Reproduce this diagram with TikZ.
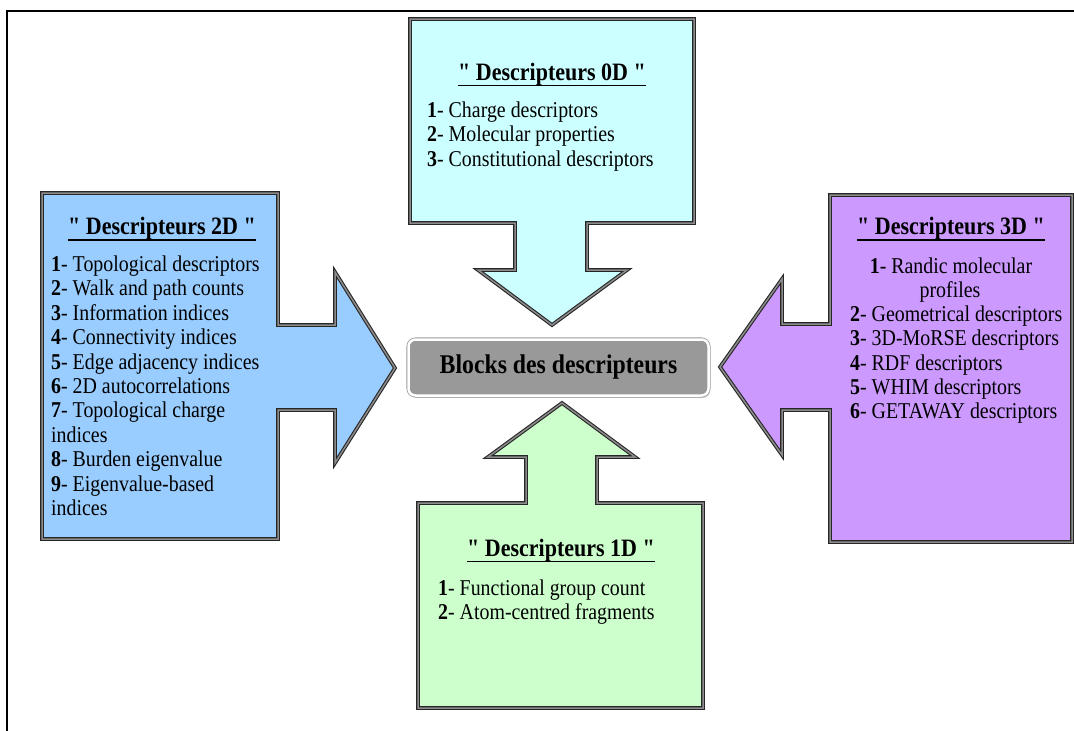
\documentclass[tikz,border=0pt]{standalone}
\usepackage{fontspec}
\setmainfont[FakeStretch=0.88]{Liberation Serif}
\newfontfamily\qfont[FakeStretch=0.88,Ligatures=ResetAll]{Liberation Serif}
\usetikzlibrary{shadows}
\definecolor{czero}{HTML}{CCFFFF}
\definecolor{cone}{HTML}{CCFFCC}
\definecolor{ctwo}{HTML}{99CCFF}
\definecolor{cthree}{HTML}{CC99FF}
\definecolor{cblock}{HTML}{999999}
\newcommand{\dq}{{\qfont\char34}}
\tikzset{
  arrowbox/.style={draw=black!85, line width=1.1pt, double=black!45, double distance=1.5pt, line join=miter},
  itemtxt/.style={anchor=base west, inner sep=0pt, font=\fontsize{22.6}{24}\selectfont},
  itemc/.style={anchor=base, inner sep=0pt, font=\fontsize{22.6}{24}\selectfont},
  ttl/.style={anchor=base, inner sep=0pt, font=\bfseries\fontsize{25}{28}\selectfont},
  ul/.style={line width=1.8pt, line cap=butt},
  frame/.style={line width=2.8pt},
}
\begin{document}
\begin{tikzpicture}[x=1pt, y=-1pt]
\useasboundingbox (0,0) rectangle (1074,731);
% frame
\draw[frame] (7,731) -- (7,11) -- (1074,11);

% 0D arrow (down)
\filldraw[arrowbox, fill=czero] (410,19) -- (694,19) -- (694,223) -- (587,223) -- (587,270) -- (627,270) -- (552,325) -- (478,270) -- (515,270) -- (515,223) -- (410,223) -- cycle;
% 2D arrow (right)
\filldraw[arrowbox, fill=ctwo] (42,193) -- (278,193) -- (278,325) -- (335,325) -- (335,272) -- (395,368) -- (335,463) -- (335,410) -- (278,410) -- (278,539) -- (42,539) -- cycle;
% 3D arrow (left)
\filldraw[arrowbox, fill=cthree] (830,195) -- (1072,195) -- (1072,542) -- (830,542) -- (830,410) -- (782,410) -- (782,455) -- (720,367) -- (782,279) -- (782,324) -- (830,324) -- cycle;
% 1D arrow (up)
\filldraw[arrowbox, fill=cone] (418,503) -- (526,503) -- (526,457) -- (488,457) -- (562,403) -- (635,457) -- (597,457) -- (597,503) -- (703,503) -- (703,708) -- (418,708) -- cycle;

% central block
\node[draw=black!40, line width=0.8pt, double=white, double distance=2.5pt, rounded corners=7pt, fill=cblock,
      minimum width=300pt, minimum height=56pt, inner sep=0pt,
      drop shadow={shadow xshift=1.5pt, shadow yshift=-2.5pt, opacity=0.3},
      font=\bfseries\fontsize{27}{30}\selectfont] (blk) at (558.5,367.5) {Blocks des descripteurs};

% 0D text
\node[ttl] (t0) at (552,80) {\dq{} Descripteurs 0D \dq};
\draw[ul] ([yshift=-5.5pt]t0.base west) -- ([yshift=-5.5pt]t0.base east);
\node[itemtxt] (a1) at (427,117) {\textbf{1}- Charge descriptors};
\node[itemtxt] (a2) at (427,141.5) {\textbf{2}- Molecular properties};
\node[itemtxt] (a3) at (427,166) {\textbf{3}- Constitutional descriptors};

% 2D text
\node[ttl] (t2) at (162,234.5) {\dq{} Descripteurs 2D \dq};
\draw[ul] ([yshift=-5.5pt]t2.base west) -- ([yshift=-5.5pt]t2.base east);
\node[itemtxt] (b1) at (51,271.5) {\textbf{1}- Topological descriptors};
\node[itemtxt] (b2) at (51,295.9) {\textbf{2}- Walk and path counts};
\node[itemtxt] (b3) at (51,320.3) {\textbf{3}- Information indices};
\node[itemtxt] (b4) at (51,344.7) {\textbf{4}- Connectivity indices};
\node[itemtxt] (b5) at (51,369.1) {\textbf{5}- Edge adjacency indices};
\node[itemtxt] (b6) at (51,393.5) {\textbf{6}- 2D autocorrelations};
\node[itemtxt] (b7) at (51,417.9) {\textbf{7}- Topological charge};
\node[itemtxt] (b7b) at (51,442.3) {indices};
\node[itemtxt] (b8) at (51,466.7) {\textbf{8}- Burden eigenvalue};
\node[itemtxt] (b9) at (51,491.1) {\textbf{9}- Eigenvalue-based};
\node[itemtxt] (b9b) at (51,515.5) {indices};

% 3D text
\node[ttl] (t3) at (951,234.5) {\dq{} Descripteurs 3D \dq};
\draw[ul] ([yshift=-5.5pt]t3.base west) -- ([yshift=-5.5pt]t3.base east);
\node[itemc] (c1) at (951,273) {\textbf{1}- Randic molecular};
\node[itemc] (c1b) at (950,297.3) {profiles};
\node[itemtxt] (c2) at (850,321.6) {\textbf{2}- Geometrical descriptors};
\node[itemtxt] (c3) at (850,345.9) {\textbf{3}- 3D-MoRSE descriptors};
\node[itemtxt] (c4) at (850,370.2) {\textbf{4}- RDF descriptors};
\node[itemtxt] (c5) at (850,394.5) {\textbf{5}- WHIM descriptors};
\node[itemtxt] (c6) at (850,418.8) {\textbf{6}- GETAWAY descriptors};

% 1D text
\node[ttl] (t1) at (561,556) {\dq{} Descripteurs 1D \dq};
\draw[ul] ([yshift=-5.5pt]t1.base west) -- ([yshift=-5.5pt]t1.base east);
\node[itemtxt] (d1) at (438,595) {\textbf{1}- Functional group count};
\node[itemtxt] (d2) at (438,619.3) {\textbf{2}- Atom-centred fragments};
\end{tikzpicture}
\end{document}
